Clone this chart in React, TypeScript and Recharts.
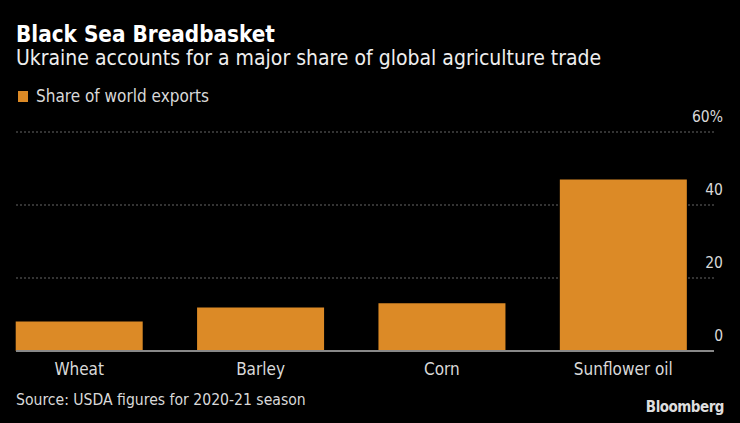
import { Bar, BarChart, CartesianGrid, XAxis, YAxis } from 'recharts';

const categories = ['Wheat', 'Barley', 'Corn', 'Sunflower oil'];
const shareOfWorldExports = [8.1, 11.9, 13.1, 47.0];
const yTicks = [0, 20, 40, 60];

const BAR_COLOR = '#dc8a26';
const TEXT = '#d9d9d9';
const FONT = '"DejaVu Sans", sans-serif';
const COND = 'condensed';

const data = categories.map((name, i) => ({ name, value: shareOfWorldExports[i] }));

function YTick(props: { x?: number; y?: number; payload?: { value: number } }) {
  const { x = 0, y = 0, payload } = props;
  const v = payload?.value ?? 0;
  return (
    <text
      x={x + 1}
      y={y - 10}
      textAnchor="end"
      fill={TEXT}
      fontSize={15.5}
      fontFamily={FONT}
      style={{ fontStretch: COND }}
    >
      {v === 60 ? '60%' : v}
    </text>
  );
}

export default function App() {
  return (
    <div
      style={{
        position: 'absolute',
        left: 0,
        top: 0,
        width: 740,
        height: 423,
        background: '#000',
        fontFamily: FONT,
        fontStretch: COND,
        overflow: 'hidden',
      }}
    >
      <div
        style={{
          position: 'absolute',
          left: 16,
          top: 23,
          color: '#fff',
          fontSize: 22.3,
          lineHeight: 1,
          fontWeight: 700,
        }}
      >
        Black Sea Breadbasket
      </div>
      <div style={{ position: 'absolute', left: 16, top: 47.5, color: '#eee', fontSize: 21, lineHeight: 1 }}>
        Ukraine accounts for a major share of global agriculture trade
      </div>
      <div
        style={{
          position: 'absolute',
          left: 18,
          top: 86,
          color: TEXT,
          fontSize: 17,
          display: 'flex',
          alignItems: 'center',
        }}
      >
        <span style={{ display: 'inline-block', width: 10, height: 11, background: BAR_COLOR, marginRight: 8 }} />
        Share of world exports
      </div>

      <div style={{ position: 'absolute', left: 0, top: 0 }}>
        <BarChart
          width={740}
          height={423}
          data={data}
          margin={{ top: 132, right: 0, bottom: 42, left: 16 }}
          barCategoryGap="15%"
        >
          <CartesianGrid vertical={false} stroke="#666" strokeDasharray="2 2" />
          <XAxis
            dataKey="name"
            height={30}
            padding={{ left: -27.5, right: 0 }}
            tickLine={false}
            axisLine={{ stroke: '#888', strokeWidth: 2 }}
            tick={{ fill: TEXT, fontSize: 17, fontFamily: FONT, style: { fontStretch: COND } }}
            tickMargin={6}
            interval={0}
          />
          <YAxis
            orientation="right"
            width={26}
            domain={[0, 60]}
            ticks={yTicks}
            tickLine={false}
            axisLine={false}
            tick={<YTick />}
          />
          <Bar dataKey="value" fill={BAR_COLOR} isAnimationActive={false} />
        </BarChart>
      </div>

      <div style={{ position: 'absolute', left: 16, top: 391, color: TEXT, fontSize: 15.6 }}>
        Source: USDA figures for 2020-21 season
      </div>
      <div
        style={{
          position: 'absolute',
          right: 16,
          top: 398,
          color: '#ddd',
          fontSize: 15,
          fontWeight: 700,
          letterSpacing: -0.5,
        }}
      >
        Bloomberg
      </div>
    </div>
  );
}
